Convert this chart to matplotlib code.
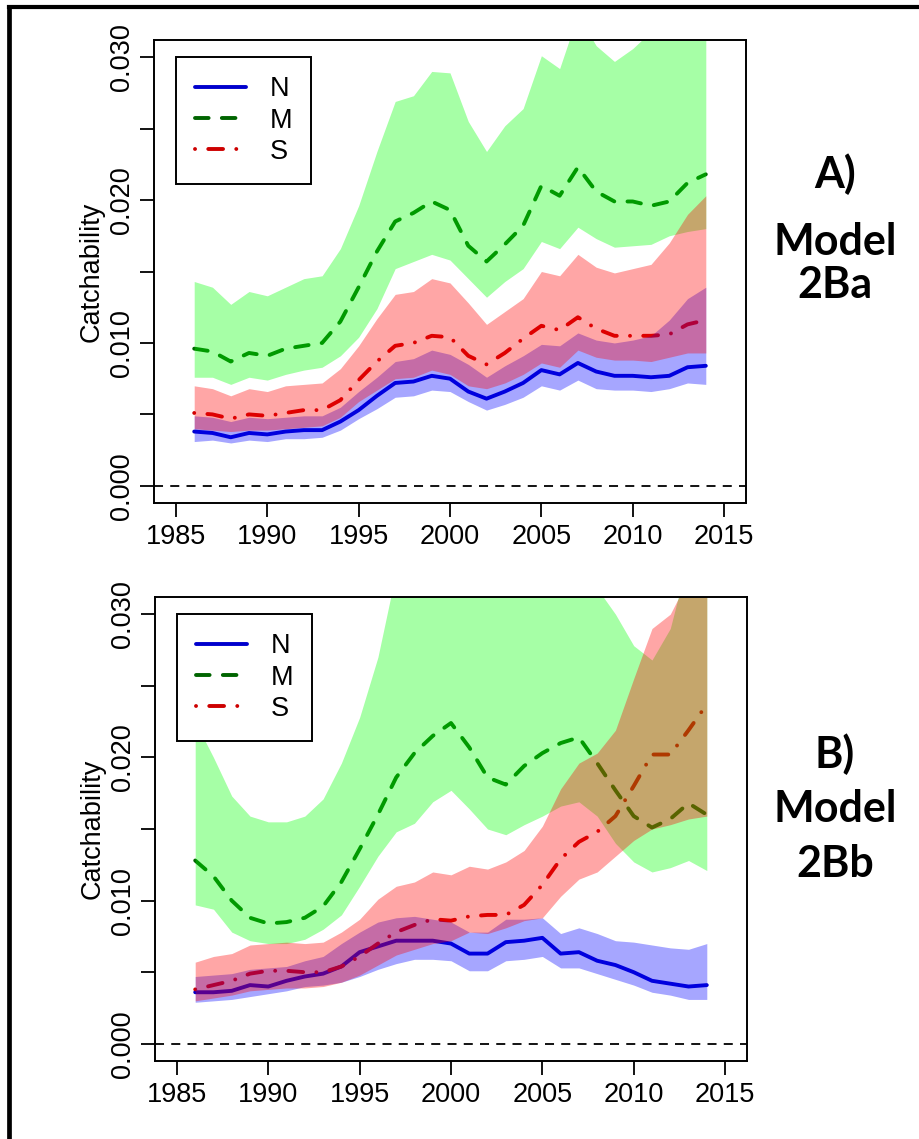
import numpy as np
import matplotlib.pyplot as plt
from matplotlib.lines import Line2D

plt.rcParams['font.family'] = ['Liberation Sans', 'DejaVu Sans']

years = np.arange(1986, 2015)

# ---- Model 2Ba ----
a_n = [0.0038, 0.0037, 0.0034, 0.0037, 0.0036, 0.0038, 0.0039, 0.0039, 0.0045, 0.0053,
       0.0063, 0.0072, 0.0073, 0.0077, 0.0075, 0.0066, 0.0061, 0.0066, 0.0072, 0.0081,
       0.0078, 0.0086, 0.0080, 0.0077, 0.0077, 0.0076, 0.0077, 0.0083, 0.0084]
a_n_lo = [0.0031, 0.0032, 0.0030, 0.0032, 0.0031, 0.0033, 0.0033, 0.0034, 0.0039, 0.0047,
          0.0054, 0.0062, 0.0063, 0.0067, 0.0066, 0.0059, 0.0053, 0.0057, 0.0062, 0.0070,
          0.0067, 0.0074, 0.0068, 0.0067, 0.0067, 0.0066, 0.0068, 0.0072, 0.0071]
a_n_hi = [0.0049, 0.0048, 0.0045, 0.0048, 0.0047, 0.0048, 0.0049, 0.0049, 0.0055, 0.0066,
          0.0076, 0.0087, 0.0089, 0.0095, 0.0092, 0.0085, 0.0076, 0.0084, 0.0091, 0.0099,
          0.0098, 0.0107, 0.0102, 0.0100, 0.0102, 0.0105, 0.0116, 0.0131, 0.0139]
a_m = [0.0096, 0.0094, 0.0087, 0.0093, 0.0091, 0.0096, 0.0098, 0.0100, 0.0115, 0.0139,
       0.0164, 0.0185, 0.0191, 0.0199, 0.0193, 0.0168, 0.0157, 0.0169, 0.0182, 0.0210,
       0.0203, 0.0223, 0.0206, 0.0199, 0.0199, 0.0196, 0.0199, 0.0212, 0.0218]
a_m_lo = [0.0076, 0.0076, 0.0071, 0.0076, 0.0074, 0.0078, 0.0081, 0.0083, 0.0091, 0.0104,
          0.0124, 0.0152, 0.0157, 0.0162, 0.0158, 0.0145, 0.0132, 0.0143, 0.0152, 0.0171,
          0.0166, 0.0181, 0.0173, 0.0167, 0.0168, 0.0169, 0.0175, 0.0178, 0.0180]
a_m_hi = [0.0143, 0.0139, 0.0127, 0.0136, 0.0133, 0.0139, 0.0145, 0.0147, 0.0166, 0.0196,
          0.0234, 0.0269, 0.0273, 0.0290, 0.0289, 0.0255, 0.0234, 0.0252, 0.0264, 0.0301,
          0.0292, 0.0330, 0.0308, 0.0297, 0.0306, 0.0318, 0.0330, 0.0340, 0.0350]
a_s = [0.0051, 0.0050, 0.0047, 0.0050, 0.0049, 0.0051, 0.0053, 0.0053, 0.0060, 0.0074,
       0.0087, 0.0098, 0.0100, 0.0105, 0.0104, 0.0091, 0.0085, 0.0093, 0.0103, 0.0112,
       0.0109, 0.0118, 0.0110, 0.0105, 0.0105, 0.0105, 0.0106, 0.0113, 0.0116]
a_s_lo = [0.0040, 0.0039, 0.0038, 0.0039, 0.0039, 0.0040, 0.0041, 0.0042, 0.0048, 0.0059,
          0.0067, 0.0075, 0.0076, 0.0081, 0.0078, 0.0070, 0.0068, 0.0072, 0.0078, 0.0086,
          0.0083, 0.0095, 0.0090, 0.0088, 0.0088, 0.0087, 0.0090, 0.0093, 0.0093]
a_s_hi = [0.0070, 0.0068, 0.0063, 0.0068, 0.0066, 0.0070, 0.0071, 0.0072, 0.0082, 0.0098,
          0.0117, 0.0134, 0.0136, 0.0145, 0.0142, 0.0128, 0.0113, 0.0122, 0.0131, 0.0150,
          0.0147, 0.0162, 0.0153, 0.0149, 0.0152, 0.0155, 0.0170, 0.0190, 0.0203]

# ---- Model 2Bb ----
b_n = [0.0036, 0.0036, 0.0037, 0.0041, 0.0040, 0.0044, 0.0047, 0.0049, 0.0054, 0.0064,
       0.0068, 0.0072, 0.0072, 0.0072, 0.0070, 0.0063, 0.0063, 0.0071, 0.0072, 0.0074,
       0.0063, 0.0064, 0.0058, 0.0055, 0.0050, 0.0044, 0.0042, 0.0040, 0.0041]
b_n_lo = [0.0029, 0.0030, 0.0031, 0.0033, 0.0035, 0.0037, 0.0040, 0.0041, 0.0043, 0.0047,
          0.0052, 0.0056, 0.0059, 0.0059, 0.0058, 0.0051, 0.0051, 0.0058, 0.0059, 0.0061,
          0.0053, 0.0053, 0.0049, 0.0045, 0.0041, 0.0036, 0.0034, 0.0031, 0.0031]
b_n_hi = [0.0047, 0.0048, 0.0049, 0.0052, 0.0053, 0.0054, 0.0058, 0.0061, 0.0070, 0.0078,
          0.0085, 0.0088, 0.0089, 0.0087, 0.0085, 0.0078, 0.0078, 0.0087, 0.0087, 0.0088,
          0.0077, 0.0081, 0.0077, 0.0072, 0.0071, 0.0069, 0.0067, 0.0066, 0.0070]
b_m = [0.0128, 0.0117, 0.0100, 0.0088, 0.0084, 0.0085, 0.0088, 0.0096, 0.0113, 0.0136,
       0.0160, 0.0186, 0.0203, 0.0215, 0.0224, 0.0207, 0.0186, 0.0181, 0.0194, 0.0203,
       0.0210, 0.0214, 0.0196, 0.0177, 0.0159, 0.0151, 0.0157, 0.0168, 0.0160]
b_m_lo = [0.0097, 0.0094, 0.0078, 0.0072, 0.0070, 0.0070, 0.0073, 0.0080, 0.0090, 0.0110,
          0.0131, 0.0148, 0.0154, 0.0169, 0.0177, 0.0164, 0.0150, 0.0146, 0.0153, 0.0159,
          0.0166, 0.0169, 0.0159, 0.0140, 0.0127, 0.0120, 0.0123, 0.0128, 0.0121]
b_m_hi = [0.0225, 0.0200, 0.0173, 0.0159, 0.0155, 0.0155, 0.0159, 0.0171, 0.0196, 0.0228,
          0.0270, 0.0330, 0.0360, 0.0380, 0.0390, 0.0380, 0.0370, 0.0360, 0.0350, 0.0345,
          0.0340, 0.0335, 0.0318, 0.0300, 0.0278, 0.0268, 0.0290, 0.0340, 0.0360]
b_s = [0.0038, 0.0041, 0.0044, 0.0049, 0.0051, 0.0051, 0.0050, 0.0050, 0.0054, 0.0061,
       0.0070, 0.0078, 0.0083, 0.0087, 0.0086, 0.0089, 0.0090, 0.0090, 0.0097, 0.0111,
       0.0129, 0.0141, 0.0148, 0.0159, 0.0180, 0.0202, 0.0202, 0.0219, 0.0237]
b_s_lo = [0.0030, 0.0032, 0.0034, 0.0037, 0.0038, 0.0039, 0.0039, 0.0040, 0.0043, 0.0048,
          0.0055, 0.0062, 0.0066, 0.0070, 0.0072, 0.0078, 0.0077, 0.0081, 0.0086, 0.0088,
          0.0103, 0.0115, 0.0120, 0.0131, 0.0142, 0.0150, 0.0153, 0.0157, 0.0159]
b_s_hi = [0.0057, 0.0061, 0.0063, 0.0069, 0.0070, 0.0071, 0.0070, 0.0071, 0.0078, 0.0087,
          0.0101, 0.0110, 0.0113, 0.0120, 0.0118, 0.0124, 0.0122, 0.0127, 0.0135, 0.0152,
          0.0178, 0.0196, 0.0203, 0.0219, 0.0255, 0.0290, 0.0300, 0.0325, 0.0360]

labels = ['N', 'M', 'S']
line_cols = ['#0000CD', '#006400', '#CD0000']
band_cols = ['#0000FF', '#00FF00', '#FF0000']
styles = ['-', (0, (3.5, 3.4)), (0, (0.01, 3.4, 3.8, 3.4))]
FS = 19.5

fig = plt.figure(figsize=(9.2, 11.39), dpi=100)
W, H = 920.0, 1139.0


def panel(box, series):
    x0, y0, x1, y1 = box
    ax = fig.add_axes([x0 / W, 1 - y1 / H, (x1 - x0) / W, (y1 - y0) / H])
    handles = []
    # lines first, the transparent bands are laid over them
    for (mid, lo, hi), lab, lc, ls in zip(series, labels, line_cols, styles):
        h, = ax.plot(years, mid, color=lc, lw=2.8, linestyle=ls, label=lab,
                     solid_capstyle='round', dash_capstyle='round', zorder=1)
        handles.append(h)
    for (mid, lo, hi), bc in zip(series, band_cols):
        ax.fill_between(years, lo, hi, color=bc, alpha=0.35, lw=0, zorder=2)
    ax.axhline(0, color='black', lw=1.3, linestyle=(0, (5, 4)), zorder=3)
    ax.set_xlim(1983.8, 2016.2)
    ax.set_ylim(-0.0012, 0.0312)
    ax.set_xticks(np.arange(1985, 2016, 5))
    yt = np.arange(0, 0.0301, 0.005)
    ax.set_yticks(yt)
    ax.set_yticklabels(['%.3f' % v if round(v * 1000) % 10 == 0 else '' for v in yt],
                       rotation=90, va='center')
    ax.tick_params(direction='out', length=10, width=1.3, labelsize=FS, pad=4)
    ax.tick_params(axis='x', pad=5)
    for sp in ax.spines.values():
        sp.set_linewidth(1.4)
    ax.set_ylabel('Catchability', fontsize=FS, labelpad=3)
    leg = ax.legend(handles=handles, loc='upper left', bbox_to_anchor=(0.037, 0.963),
                    borderaxespad=0, fontsize=FS, fancybox=False, framealpha=1,
                    edgecolor='black', handlelength=1.9, handletextpad=0.85,
                    borderpad=0.7, labelspacing=0.2)
    leg.get_frame().set_linewidth(1.4)
    return ax


panel((154, 40, 746, 503), [(a_n, a_n_lo, a_n_hi), (a_m, a_m_lo, a_m_hi),
                           (a_s, a_s_lo, a_s_hi)])
panel((155, 597, 747, 1061), [(b_n, b_n_lo, b_n_hi), (b_m, b_m_lo, b_m_hi),
                             (b_s, b_s_lo, b_s_hi)])

# panel captions
cap_kw = dict(ha='center', va='baseline', fontsize=31, fontweight='bold', family='Lato')
for txt, yb in [('A)', 188), ('Model', 255), ('2Ba', 298),
                ('B)', 768), ('Model', 822), ('2Bb', 877)]:
    fig.text(835 / W, 1 - yb / H, txt, **cap_kw)

# outer frame (left and top edges only visible)
fig.add_artist(Line2D([8.8 / W, 8.8 / W], [0, 1 - 7 / H], color='black', lw=3.4,
                      transform=fig.transFigure))
fig.add_artist(Line2D([8.8 / W, 1], [1 - 7 / H, 1 - 7 / H], color='black', lw=3.0,
                      transform=fig.transFigure))

fig.savefig('out.png', dpi=100)
